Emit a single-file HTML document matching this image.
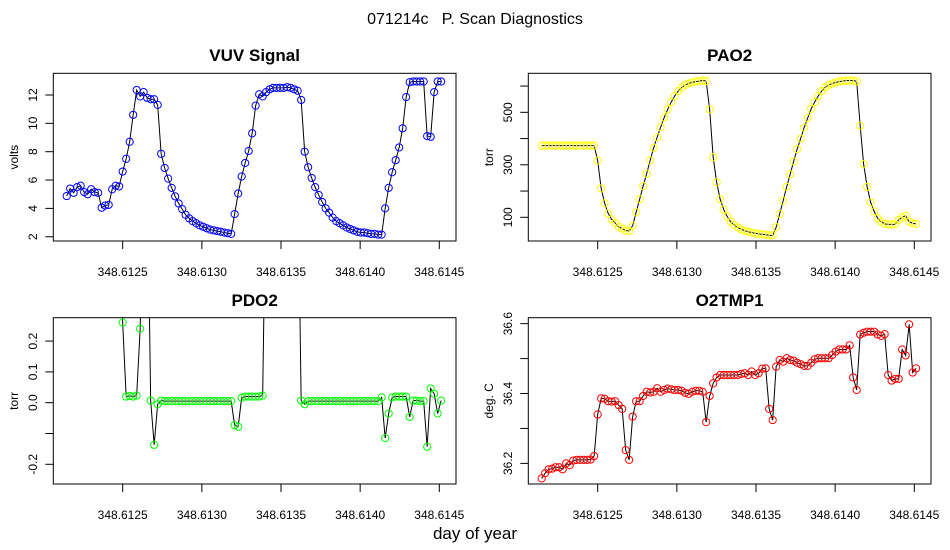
<!DOCTYPE html>
<html><head><meta charset="utf-8"><style>
body{margin:0;background:#fff}
svg{display:block;font-family:"Liberation Sans",sans-serif}
</style></head><body>
<svg id="chart" width="950" height="550" viewBox="0 0 950 550">
<rect width="950" height="550" fill="#fff"/>
<text x="475" y="24" font-size="16" text-anchor="middle" xml:space="preserve">071214c   P. Scan Diagnostics</text>
<text x="475" y="539" font-size="17" text-anchor="middle">day of year</text>
</svg>
<script>
const xTicks = [348.6125, 348.6130, 348.6135, 348.6140, 348.6145];
const xTickLabels = ["348.6125","348.6130","348.6135","348.6140","348.6145"];
const tStart = 348.612146;
const tStep = 0.00002211;

const vuvValues = [4.87,5.4,5.1,5.5,5.6,5.15,5.0,5.35,5.15,5.1,4.05,4.2,4.25,5.35,5.6,5.55,6.6,7.5,8.7,10.6,12.35,11.9,12.2,11.8,11.7,11.7,11.3,7.85,6.85,6.1,5.45,4.85,4.35,3.95,3.55,3.3,3.1,2.95,2.8,2.7,2.6,2.5,2.45,2.4,2.35,2.3,2.25,2.2,3.6,5.05,6.25,7.2,8.05,9.3,11.25,12.05,11.9,12.2,12.4,12.5,12.5,12.5,12.5,12.55,12.5,12.4,12.3,11.65,8.0,6.9,6.15,5.5,4.95,4.45,4.0,3.7,3.35,3.1,2.95,2.8,2.65,2.55,2.45,2.35,2.3,2.3,2.25,2.2,2.2,2.15,2.15,4.0,5.45,6.55,7.4,8.3,9.65,11.85,12.9,12.95,12.95,12.95,12.95,9.1,9.05,12.2,12.95,12.95];
const pao2Values = [373,373,373,373,373,373,373,373,373,373,373,373,373,373,373,373,316,210,153,115,92,78,64,57,49,48,68,119,169,219,266,317,365,405,443,480,511,539,562,581,594,604,610,614,617,619,621,619,511,329,233,169,130,103,83,71,61,54,49,45,42,39,37,35,34,31,31,62,113,163,216,264,313,360,400,442,478,513,539,562,581,595,604,610,614,617,619,621,621,621,618,449,302,216,157,122,96,83,75,73,73,73,90,100,106,83,77,75];
const pdo2Values = [0.8,0.8,0.8,0.8,0.8,0.8,0.8,0.8,0.8,0.8,0.8,0.8,0.8,0.8,0.8,0.8,0.26,0.02,0.022,0.02,0.023,0.24,0.8,0.8,0.007,-0.137,-0.005,0.007,0.005,0.005,0.005,0.005,0.005,0.005,0.005,0.005,0.005,0.005,0.005,0.005,0.005,0.005,0.005,0.005,0.005,0.005,0.005,0.005,-0.073,-0.078,0.016,0.02,0.02,0.02,0.02,0.02,0.023,0.8,0.8,0.8,0.8,0.8,0.8,0.8,0.8,0.8,0.8,0.007,-0.005,0.005,0.005,0.005,0.005,0.005,0.005,0.005,0.005,0.005,0.005,0.005,0.005,0.005,0.005,0.005,0.005,0.005,0.005,0.005,0.005,0.005,0.017,-0.115,-0.035,0.017,0.02,0.02,0.02,0.02,-0.046,0.007,0.007,0.005,0.005,-0.143,0.046,0.029,-0.035,0.007];
const o2tmpValues = [36.157,36.172,36.183,36.185,36.189,36.189,36.183,36.2,36.195,36.208,36.21,36.21,36.21,36.21,36.211,36.221,36.34,36.386,36.385,36.378,36.377,36.378,36.367,36.356,36.238,36.21,36.334,36.378,36.378,36.393,36.405,36.403,36.405,36.415,36.405,36.41,36.414,36.412,36.41,36.41,36.408,36.402,36.399,36.405,36.408,36.408,36.405,36.318,36.393,36.429,36.446,36.453,36.453,36.453,36.453,36.453,36.453,36.456,36.458,36.453,36.463,36.453,36.458,36.471,36.472,36.356,36.324,36.477,36.496,36.491,36.501,36.496,36.494,36.488,36.484,36.479,36.479,36.488,36.498,36.501,36.501,36.501,36.501,36.51,36.52,36.526,36.526,36.526,36.538,36.446,36.41,36.569,36.574,36.577,36.577,36.577,36.569,36.565,36.57,36.453,36.437,36.442,36.442,36.526,36.509,36.598,36.46,36.472];

const vuvTicks = [2,4,6,8,10,12];
const vuvTickLabels = ["2","4","6","8","10","12"];
const pao2Ticks = [100,200,300,400,500,600];
const pao2TickLabels = ["100","","300","","500",""];
const pdo2Ticks = [-0.2,-0.1,0,0.1,0.2];
const pdo2TickLabels = ["-0.2","","0.0","0.1","0.2"];
const o2tmpTicks = [36.2,36.3,36.4,36.5,36.6];
const o2tmpTickLabels = ["36.2","","36.4","","36.6"];

const NS="http://www.w3.org/2000/svg";
const svg=document.getElementById('chart');
function mk(tag,attrs,parent){const e=document.createElementNS(NS,tag);for(const k in attrs)e.setAttribute(k,attrs[k]);(parent||svg).appendChild(e);return e;}

const panels=[
 {key:'vuv',title:'VUV Signal',ylab:'volts',vals:vuvValues,ticks:vuvTicks,labels:vuvTickLabels,color:'#0000ff',ox:0,top:73.3,bot:241,yTop:13.53,yBot:1.70,titleY:61},
 {key:'pao2',title:'PAO2',ylab:'torr',vals:pao2Values,ticks:pao2Ticks,labels:pao2TickLabels,color:'#ffff00',ox:475,top:73.3,bot:241,yTop:648.6,yBot:9.7,titleY:61},
 {key:'pdo2',title:'PDO2',ylab:'torr',vals:pdo2Values,ticks:pdo2Ticks,labels:pdo2TickLabels,color:'#00ff00',ox:0,top:317.7,bot:484,yTop:0.276,yBot:-0.264,titleY:306},
 {key:'o2tmp1',title:'O2TMP1',ylab:'deg. C',vals:o2tmpValues,ticks:o2tmpTicks,labels:o2tmpTickLabels,color:'#ff0000',ox:475,top:317.7,bot:484,yTop:36.617,yBot:36.141,titleY:306}
];

panels.forEach(p=>{
 const L=p.ox+53.3,R=p.ox+456;
 const xs=t=>p.ox+122.7+(t-348.6125)/0.0005*79.15;
 const ys=v=>p.bot-(v-p.yBot)/(p.yTop-p.yBot)*(p.bot-p.top);
 const g=mk('g',{});
 
 
 const cp=mk('clipPath',{id:'clip-'+p.key},g);
 mk('rect',{x:L,y:p.top,width:R-L,height:p.bot-p.top},cp);
 const tt=mk('text',{x:(L+R)/2,y:p.titleY,'font-size':17,'font-weight':'bold','text-anchor':'middle'},g);
 tt.textContent=p.title;
 
 
 const yl=mk('text',{transform:`translate(${p.ox+18},${(p.top+p.bot)/2}) rotate(-90)`,'font-size':12,'text-anchor':'middle'},g);
 yl.textContent=p.ylab;
 
 
 // x ticks
 xTicks.forEach((t,i)=>{
  const x=xs(t);
  const tk=mk('line',{x1:x,x2:x,y1:p.bot,y2:p.bot+8,stroke:'#000','stroke-width':1},g);
  
  
  const tl=mk('text',{x:x,y:p.bot+35,'font-size':12,'text-anchor':'middle'},g);
  tl.textContent=xTickLabels[i];
  
  
 });
 // y ticks
 p.ticks.forEach((v,i)=>{
  const y=ys(v);
  const tk=mk('line',{x1:L-8,x2:L,y1:y,y2:y,stroke:'#000','stroke-width':1},g);
  
  
  if(p.labels[i]){
   const tl=mk('text',{transform:`translate(${p.ox+37},${y}) rotate(-90)`,'font-size':12,'text-anchor':'middle'},g);
   tl.textContent=p.labels[i];
   
   
  }
 });
 const dg=mk('g',{'clip-path':`url(#clip-${p.key})`},g);
 
 
 const pts=p.vals.map((v,i)=>xs(tStart+i*tStep).toFixed(2)+','+ys(v).toFixed(2)).join(' ');
 const ln=mk('polyline',{points:pts,fill:'none',stroke:'#000','stroke-width':1},dg);
 
 
 p.vals.forEach((v,i)=>{
  const c=mk('circle',{cx:xs(tStart+i*tStep),cy:ys(v),r:3.6,fill:'none',stroke:p.color,'stroke-width':1},dg);
  
  
 });
 const box=mk('rect',{x:L,y:p.top,width:R-L,height:p.bot-p.top,fill:'none',stroke:'#000','stroke-width':1},g);
 
 
});
</script>
</body></html>
